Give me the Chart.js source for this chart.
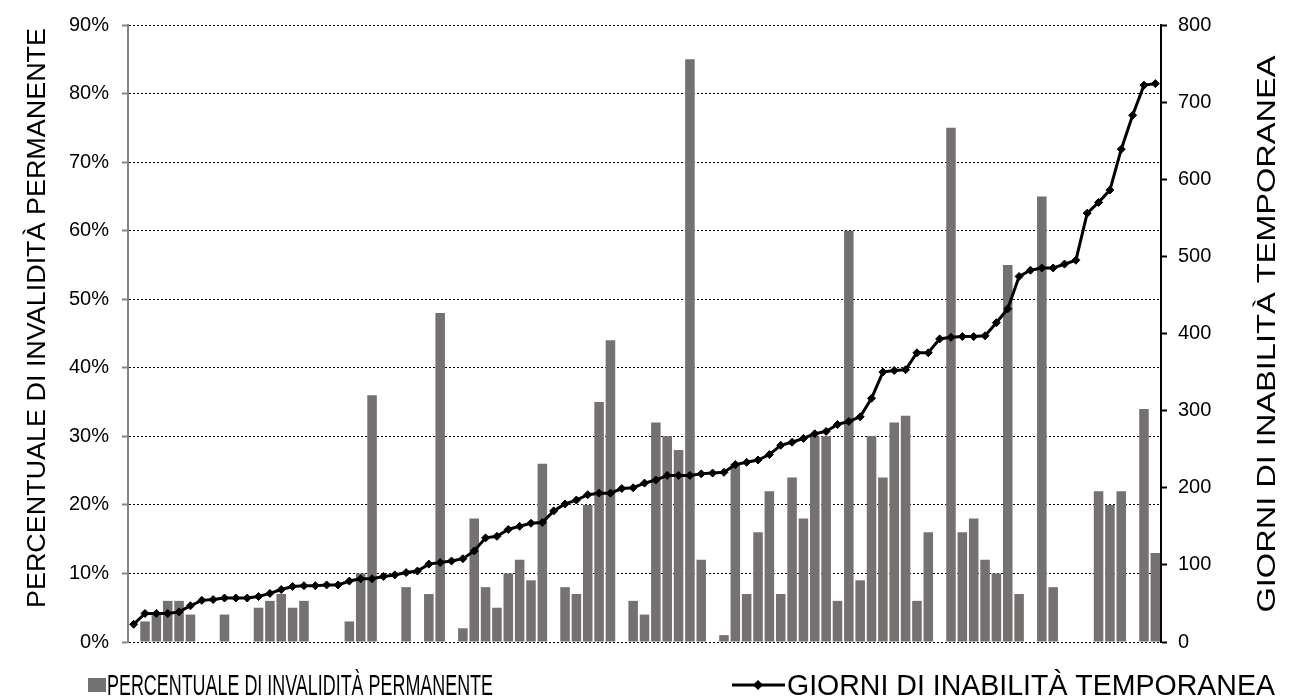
<!DOCTYPE html>
<html>
<head>
<meta charset="utf-8">
<script src="https://cdn.jsdelivr.net/npm/chart.js@4/dist/chart.umd.min.js"></script>
<style>
  html, body { margin: 0; padding: 0; background: #fff; }
  #wrap { width: 1290px; height: 700px; position: relative; }
</style>
</head>
<body>
<div id="wrap"><canvas id="comboChart"></canvas></div>
<script>
// one category per case, sorted by days of temporary inability
const cases = Array.from({ length: 91 }, (_, i) => String(i + 1));

// percentuale di invalidità permanente (%), null = no bar
const invalidita = [
  null, 3, 4, 6, 6, 4, null, null, 4, null,
  null, 5, 6, 7, 5, 6, null, null, null, 3,
  10, 36, null, null, 8, null, 7, 48, null, 2,
  18, 8, 5, 10, 12, 9, 26, null, 8, 7,
  20, 35, 44, null, 6, 4, 32, 30, 28, 85,
  12, null, 1, 26, 7, 16, 22, 7, 24, 18,
  30, 30, 6, 60, 9, 30, 24, 32, 33, 6,
  16, null, 75, 16, 18, 12, 10, 55, 7, null,
  65, 8, null, null, null, 22, 20, 22, null, 34,
  13
];

// giorni di inabilità temporanea
const giorni = [
  23, 37, 37, 37, 39, 47, 54, 55, 57, 57,
  57, 59, 63, 68, 72, 73, 73, 74, 74, 79,
  82, 82, 85, 87, 90, 92, 101, 103, 105, 108,
  118, 135, 137, 146, 150, 154, 155, 170, 179, 184,
  191, 193, 193, 199, 200, 206, 210, 216, 216, 216,
  218, 219, 220, 230, 233, 236, 243, 255, 259, 264,
  270, 273, 282, 286, 292, 316, 350, 352, 353, 375,
  375, 393, 395, 396, 396, 397, 414, 432, 474, 482,
  485, 485, 490, 495, 556, 570, 586, 639, 683, 722,
  724
];

const percentTicks = [0, 10, 20, 30, 40, 50, 60, 70, 80, 90];
const dayTicks = [0, 100, 200, 300, 400, 500, 600, 700, 800];

const labelBar = 'PERCENTUALE DI INVALIDITÀ PERMANENTE';
const labelLine = 'GIORNI DI INABILITÀ TEMPORANEA';

const barColor = '#767171';
const fontName = '"Liberation Sans", Arial, sans-serif';

// text stretched/squeezed along its own direction to a given length
function fitText(ctx, txt, x, y, len, angle) {
  const m = ctx.measureText(txt).width;
  ctx.save();
  ctx.translate(x, y);
  ctx.rotate(angle);
  ctx.scale(len / m, 1);
  ctx.fillText(txt, 0, 0);
  ctx.restore();
}

// axis titles + legend drawn by hand (right title reads bottom-to-top)
const decorations = {
  id: 'decorations',
  afterDraw(chart) {
    const ctx = chart.ctx;
    ctx.save();
    ctx.fillStyle = '#000';
    ctx.font = '26px ' + fontName;
    ctx.textAlign = 'center';
    ctx.textBaseline = 'middle';
    fitText(ctx, labelBar, 38, 318, 580, -Math.PI / 2);
    fitText(ctx, labelLine, 1268, 334, 557, -Math.PI / 2);

    // legend
    const ly = 685;
    ctx.fillStyle = barColor;
    ctx.fillRect(88, ly - 7, 18, 14);

    ctx.strokeStyle = '#000';
    ctx.lineWidth = 3;
    ctx.beginPath();
    ctx.moveTo(732, ly);
    ctx.lineTo(785, ly);
    ctx.stroke();
    ctx.fillStyle = '#000';
    ctx.beginPath();
    ctx.moveTo(758, ly - 5);
    ctx.lineTo(763, ly);
    ctx.lineTo(758, ly + 5);
    ctx.lineTo(753, ly);
    ctx.closePath();
    ctx.fill();

    ctx.font = '29px ' + fontName;
    ctx.textAlign = 'left';
    ctx.textBaseline = 'alphabetic';
    fitText(ctx, labelBar, 107, ly + 10, 386, 0);
    fitText(ctx, labelLine, 787, ly + 10, 488, 0);
    ctx.restore();
  }
};

new Chart(document.getElementById('comboChart'), {
  data: {
    labels: cases,
    datasets: [
      {
        type: 'line',
        label: labelLine,
        data: giorni,
        yAxisID: 'y2',
        order: 0,
        borderColor: '#000',
        backgroundColor: '#000',
        borderWidth: 3,
        pointStyle: 'rectRot',
        pointRadius: 4,
        pointBorderWidth: 1,
        tension: 0
      },
      {
        type: 'bar',
        label: labelBar,
        data: invalidita,
        yAxisID: 'y',
        order: 1,
        backgroundColor: barColor,
        categoryPercentage: 1,
        barPercentage: 0.84
      }
    ]
  },
  options: {
    responsive: true,
    maintainAspectRatio: false,
    animation: false,
    layout: { padding: { top: 21, bottom: 58, left: 0, right: 0 } },
    plugins: {
      legend: { display: false },
      tooltip: { enabled: false }
    },
    scales: {
      x: {
        type: 'category',
        display: false,
        offset: true
      },
      y: {
        position: 'left',
        min: 0,
        max: 90,
        afterFit: s => { s.width = 128; },
        afterBuildTicks: s => { s.ticks = percentTicks.map(v => ({ value: v })); },
        ticks: {
          color: '#000',
          font: { family: fontName, size: 20 },
          padding: 13,
          callback: v => v + '%'
        },
        grid: {
          color: '#000',
          lineWidth: 1,
          borderDash: [2, 2],
          tickBorderDash: [],
          tickColor: '#868686',
          tickLength: 6,
          tickWidth: 2
        },
        border: { display: true, color: '#868686', width: 2, dash: [2, 2] }
      },
      y2: {
        position: 'right',
        min: 0,
        max: 800,
        afterFit: s => { s.width = 129; },
        afterBuildTicks: s => { s.ticks = dayTicks.map(v => ({ value: v })); },
        ticks: {
          color: '#000',
          font: { family: fontName, size: 20 },
          padding: 11
        },
        grid: {
          drawOnChartArea: false,
          color: '#000',
          tickColor: '#000',
          tickLength: 6,
          tickWidth: 2
        },
        border: { display: true, color: '#000', width: 2 }
      }
    }
  },
  plugins: [decorations]
});
</script>
</body>
</html>
